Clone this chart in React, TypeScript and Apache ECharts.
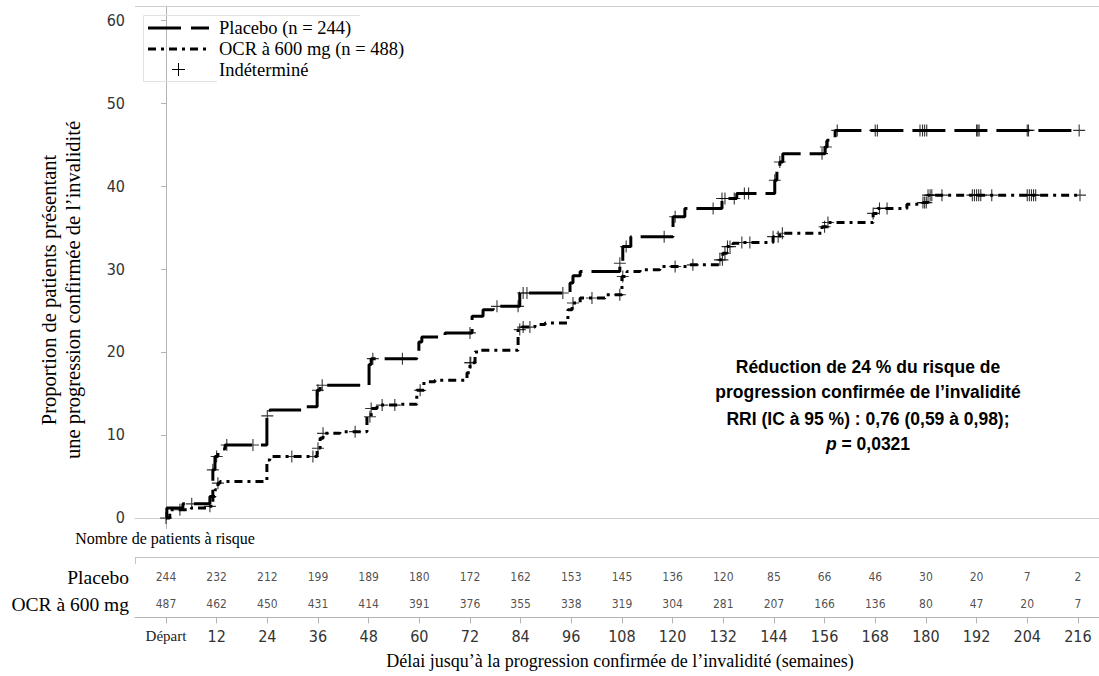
import React, { useEffect, useRef } from 'react';
import * as echarts from 'echarts';

// ---------- data ----------
const WEEK_TICKS = [0, 12, 24, 36, 48, 60, 72, 84, 96, 108, 120, 132, 144, 156, 168, 180, 192, 204, 216];
const Y_TICKS = [0, 10, 20, 30, 40, 50, 60];

const PLACEBO_T = [0, 0.2, 4.0, 10.4, 11.1, 11.6, 12.3, 14.0, 23.9, 24.6, 32.5, 35.8, 36.5, 48.1, 48.6, 59.4, 59.9, 60.6, 66.1, 72.5, 75.1, 77.5, 83.8, 95.7, 96.4, 98.1, 107.5, 108.2, 110.1, 120.1, 122.9, 131.7, 135.2, 144.2, 144.7, 145.4, 146.1, 156.1, 156.6, 158.5, 216.5];
const PLACEBO_S = [0, 1.2, 1.7, 2.6, 5.8, 7.4, 8.3, 8.8, 12.3, 13.0, 13.4, 15.4, 16.0, 18.5, 19.2, 20.0, 21.2, 21.8, 22.3, 24.3, 25.1, 25.5, 27.1, 28.3, 29.2, 29.7, 30.7, 32.7, 33.9, 36.3, 37.3, 38.5, 39.1, 40.7, 42.3, 42.9, 43.9, 44.7, 45.5, 46.7, 46.7];

const OCR_T = [0, 0.9, 6, 10.4, 11.1, 11.6, 12.3, 12.8, 23.9, 24.6, 35.8, 36.5, 37.2, 41.2, 47.6, 48.6, 50.0, 55.4, 59.4, 61.1, 63.7, 71.3, 72.0, 73.2, 74.4, 83.4, 84.3, 87.4, 89.8, 95.2, 96.2, 98.1, 104, 108.0, 109.2, 112.3, 117, 124, 131.2, 131.9, 132.9, 134.3, 136, 143.8, 145.4, 155.4, 156.6, 167.5, 168.6, 175.5, 179.3, 180.5, 216.5];
const OCR_S = [0, 1.0, 1.2, 1.4, 2.6, 3.4, 4.2, 4.4, 7.0, 7.4, 8.4, 9.6, 10.2, 10.4, 12.2, 13.2, 13.6, 13.7, 15.4, 16.4, 16.6, 17.5, 18.7, 20.0, 20.2, 22.7, 23.0, 23.3, 23.5, 25.1, 25.9, 26.5, 26.9, 29.1, 29.7, 29.9, 30.3, 30.5, 31.1, 31.9, 32.7, 33.1, 33.2, 33.9, 34.3, 35.1, 35.6, 36.7, 37.3, 37.8, 38.0, 38.9, 38.9];

const PLACEBO_CENSORED = [0, 6.1, 11.1, 12, 14.4, 20.6, 24, 36, 37, 49, 56, 72, 78.4, 83.4, 84.6, 85.5, 94, 107.5, 109, 118, 120.6, 129.6, 131.7, 132.4, 134.6, 137, 138, 144.2, 145.4, 155.4, 156.3, 159, 168, 168.5, 178.6, 179.2, 179.7, 180.2, 192, 192.3, 192.6, 204, 204.3, 216.3];
const OCR_CENSORED = [3.3, 10.4, 12.3, 29.8, 34.8, 36, 37.2, 44.8, 48.3, 48.6, 51.2, 54.2, 60.2, 72, 72.2, 83.8, 84.6, 86.2, 96.4, 100.9, 107.5, 108.2, 120.6, 124.8, 131.2, 131.8, 132.4, 133, 133.6, 136.4, 138.3, 143.8, 145, 146, 156, 156.8, 167.5, 169, 170.8, 179.3, 179.7, 180.1, 180.5, 181, 181.4, 183.8, 191, 191.5, 192, 192.5, 193, 195.6, 204, 204.5, 205, 205.5, 206, 216.5];

const RISK_GROUPS = ['OCR à 600 mg', 'Placebo'];
const RISK_PLACEBO = [244, 232, 212, 199, 189, 180, 172, 162, 153, 145, 136, 120, 85, 66, 46, 30, 20, 7, 2];
const RISK_OCR = [487, 462, 450, 431, 414, 391, 376, 355, 338, 319, 304, 281, 207, 166, 136, 80, 47, 20, 7];

// ---------- helpers ----------
const stepAt = (ts: number[], ss: number[], t: number) => {
  let v = ss[0];
  for (let i = 0; i < ts.length; i++) if (ts[i] <= t) v = ss[i];
  return v;
};

const SERIF = "'Liberation Serif', 'Times New Roman', serif";
const NARROW = "'Liberation Sans Narrow', 'DejaVu Sans Condensed', 'Liberation Sans', sans-serif";
const SANS = "'Liberation Sans', Arial, sans-serif";
const CROSS = 'path://M5,0H6V5H11V6H6V11H5V6H0V5H5Z';
const AXIS_GRAY = '#b4b4b4';
const X_MIN = -7.34;
const X_MAX = 221;

export default function App() {
  const ref = useRef<HTMLDivElement>(null);
  useEffect(() => {
    const chart = echarts.init(ref.current!, null, { renderer: 'svg' });
    const ann = (text: string, y: number, extra: any = {}) => ({
      type: 'text', x: 868, y, z: 20,
      style: { text, font: `bold 17.5px ${SANS}`, fill: '#000', align: 'center', verticalAlign: 'middle', ...extra },
    });
    const option: any = {
      animation: false,
      backgroundColor: '#fff',
      grid: [
        { left: 135, right: 0, top: 6, height: 528 },
        { left: 135, right: 0, top: 563.5, height: 54 },
      ],
      xAxis: [
        {
          type: 'value', gridIndex: 0, min: X_MIN, max: X_MAX,
          axisLine: { show: true, lineStyle: { color: '#cfcfcf', width: 1 } },
          axisTick: { show: false }, axisLabel: { show: false }, splitLine: { show: false },
        },
        {
          type: 'value', gridIndex: 1, min: X_MIN, max: X_MAX,
          axisLine: { show: true, lineStyle: { color: AXIS_GRAY, width: 1 } },
          axisTick: { show: true, customValues: WEEK_TICKS, length: 6, lineStyle: { color: AXIS_GRAY } },
          axisLabel: {
            show: true, customValues: WEEK_TICKS, margin: 11,
            color: '#333', fontFamily: NARROW, fontSize: 16,
            formatter: (v: number) => (v === 0 ? '{d|Départ}' : String(v)),
            rich: { d: { fontFamily: SERIF, fontSize: 15, color: '#222' } },
          },
          splitLine: { show: false },
        },
      ],
      yAxis: [
        {
          type: 'value', gridIndex: 0, min: -1.93, max: 61.69,
          axisLine: { show: true, lineStyle: { color: AXIS_GRAY, width: 1 } },
          axisTick: { show: true, customValues: Y_TICKS, length: 5, lineStyle: { color: AXIS_GRAY } },
          axisLabel: { show: true, customValues: Y_TICKS, margin: 10, color: '#333', fontFamily: NARROW, fontSize: 16 },
          splitLine: { show: false },
        },
        {
          type: 'category', gridIndex: 1, data: RISK_GROUPS,
          axisLine: { show: false }, axisTick: { show: false },
          axisLabel: { show: true, margin: 6, color: '#000', fontFamily: SERIF, fontSize: 19.5 },
          splitLine: { show: false },
        },
      ],
      series: [
        {
          name: 'Placebo', type: 'line', step: 'end', xAxisIndex: 0, yAxisIndex: 0,
          symbol: 'none', silent: true,
          lineStyle: { color: '#000', width: 3, type: [33, 9] },
          data: PLACEBO_T.map((t, i) => [t, PLACEBO_S[i]]),
          z: 3,
        },
        {
          name: 'OCR', type: 'line', step: 'end', xAxisIndex: 0, yAxisIndex: 0,
          symbol: 'none', silent: true,
          lineStyle: { color: '#000', width: 3, type: [8, 5, 3, 5] },
          data: OCR_T.map((t, i) => [t, OCR_S[i]]),
          z: 3,
        },
        {
          name: 'Placebo censuré', type: 'scatter', xAxisIndex: 0, yAxisIndex: 0,
          symbol: CROSS, symbolSize: 12, itemStyle: { color: '#000' },
          data: PLACEBO_CENSORED.map((t) => [t, stepAt(PLACEBO_T, PLACEBO_S, t)]),
          z: 4,
        },
        {
          name: 'OCR censuré', type: 'scatter', xAxisIndex: 0, yAxisIndex: 0,
          symbol: CROSS, symbolSize: 12, itemStyle: { color: '#000' },
          data: OCR_CENSORED.map((t) => [t, stepAt(OCR_T, OCR_S, t)]),
          z: 4,
        },
        {
          name: 'Risque Placebo', type: 'scatter', xAxisIndex: 1, yAxisIndex: 1,
          symbolSize: 1, itemStyle: { color: 'rgba(0,0,0,0)' },
          label: { show: true, position: 'inside', color: '#222', fontFamily: NARROW, fontSize: 12, formatter: (p: any) => String(p.value[2]) },
          data: WEEK_TICKS.map((t, i) => [t, 'Placebo', RISK_PLACEBO[i]]),
        },
        {
          name: 'Risque OCR', type: 'scatter', xAxisIndex: 1, yAxisIndex: 1,
          symbolSize: 1, itemStyle: { color: 'rgba(0,0,0,0)' },
          label: { show: true, position: 'inside', color: '#222', fontFamily: NARROW, fontSize: 12, formatter: (p: any) => String(p.value[2]) },
          data: WEEK_TICKS.map((t, i) => [t, 'OCR à 600 mg', RISK_OCR[i]]),
        },
      ],
      graphic: [
        // plot frame top
        { type: 'line', shape: { x1: 135, y1: 6.5, x2: 1099, y2: 6.5 }, style: { stroke: '#cfcfcf', lineWidth: 1 }, z: 1 },
        // risk table top border
        { type: 'line', shape: { x1: 135, y1: 557.5, x2: 1099, y2: 557.5 }, style: { stroke: '#c4c4c4', lineWidth: 1 } },
        { type: 'line', shape: { x1: 135.5, y1: 557, x2: 135.5, y2: 564 }, style: { stroke: '#c4c4c4', lineWidth: 1 } },
        // "Nombre de patients à risque"
        { type: 'rect', shape: { x: 70, y: 529, width: 187, height: 18 }, style: { fill: '#fff' }, z: 50 },
        {
          type: 'text', x: 165, y: 538, z: 51,
          style: { text: 'Nombre de patients à risque', font: `16px ${SERIF}`, fill: '#000', align: 'center', verticalAlign: 'middle' },
        },
        // y axis title
        {
          type: 'text', x: 61, y: 290, rotation: Math.PI / 2,
          style: {
            text: 'Proportion de patients présentant\nune progression confirmée de l’invalidité',
            font: `20.5px ${SERIF}`, fill: '#000', align: 'center', verticalAlign: 'middle', lineHeight: 24,
          },
        },
        // x axis title
        {
          type: 'text', x: 620, y: 661,
          style: { text: 'Délai jusqu’à la progression confirmée de l’invalidité (semaines)', font: `18px ${SERIF}`, fill: '#000', align: 'center', verticalAlign: 'middle' },
        },
        // legend
        { type: 'polyline', shape: { points: [[360, 15.5], [143.5, 15.5], [143.5, 81.5], [217, 81.5]] }, style: { stroke: '#e2e2e2', lineWidth: 1, fill: null }, z: 20 },
        { type: 'line', shape: { x1: 148, y1: 28, x2: 209, y2: 28 }, style: { stroke: '#000', lineWidth: 3, lineDash: [33, 10] }, z: 20 },
        { type: 'line', shape: { x1: 148, y1: 49, x2: 209, y2: 49 }, style: { stroke: '#000', lineWidth: 3, lineDash: [8, 5, 3, 5] }, z: 20 },
        { type: 'line', shape: { x1: 178.5, y1: 63, x2: 178.5, y2: 76 }, style: { stroke: '#000', lineWidth: 1 }, z: 20 },
        { type: 'line', shape: { x1: 172, y1: 69.5, x2: 185, y2: 69.5 }, style: { stroke: '#000', lineWidth: 1 }, z: 20 },
        { type: 'text', x: 219, y: 28, z: 20, style: { text: 'Placebo (n = 244)', font: `18.5px ${SERIF}`, fill: '#000', verticalAlign: 'middle' } },
        { type: 'text', x: 219, y: 49, z: 20, style: { text: 'OCR à 600 mg (n = 488)', font: `18.5px ${SERIF}`, fill: '#000', verticalAlign: 'middle' } },
        { type: 'text', x: 219, y: 70, z: 20, style: { text: 'Indéterminé', font: `18.5px ${SERIF}`, fill: '#000', verticalAlign: 'middle' } },
        // annotation
        ann('Réduction de 24 % du risque de', 367),
        ann('progression confirmée de l’invalidité', 392),
        ann('RRI (IC à 95 %) : 0,76 (0,59 à 0,98);', 419),
        ann('{i|p} = 0,0321', 444, {
          rich: { i: { fontStyle: 'italic', fontWeight: 'bold', fontFamily: SANS, fontSize: 17.5, fill: '#000' } },
        }),
      ],
    };
    chart.setOption(option);
    return () => chart.dispose();
  }, []);
  return <div ref={ref} style={{ position: 'fixed', left: 0, top: 0, width: 1099, height: 676, background: '#fff' }} />;
}
